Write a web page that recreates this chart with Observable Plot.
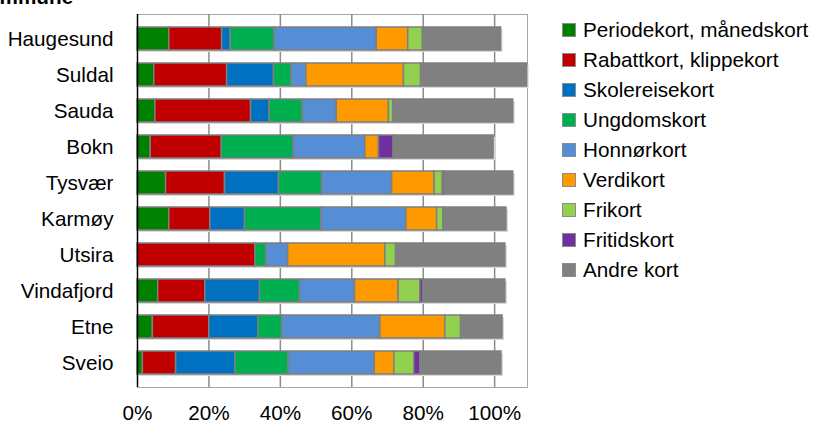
<!DOCTYPE html>
<html>
<head>
<meta charset="utf-8">
<script src="https://cdn.jsdelivr.net/npm/d3@7"></script>
<script src="https://cdn.jsdelivr.net/npm/@observablehq/plot@0.6"></script>
<style>
  html, body { margin: 0; padding: 0; background: #fff; overflow: hidden; }
  body { width: 813px; height: 426px; position: relative; font-family: "Liberation Sans", Arial, sans-serif; }
  #title { position: absolute; left: -28px; top: -13px; font-weight: bold; font-size: 20.7px; line-height: 20px; white-space: nowrap; }
  #legend { position: absolute; left: 562px; top: 15px; }
  .row { height: 30px; display: flex; align-items: center; font-size: 20.7px; color: #000; white-space: nowrap; }
  .sw { width: 12px; height: 12px; border: 1px solid #8c8c8c; margin-right: 7px; box-sizing: content-box; }
  #chart { position: absolute; left: 0; top: 0; }
</style>
</head>
<body>
<div id="chart"></div>
<div id="title">Kommune</div>
<div id="legend"></div>
<script>
const kommuner = ["Haugesund","Suldal","Sauda","Bokn","Tysvær","Karmøy","Utsira","Vindafjord","Etne","Sveio"];
const kort = ["Periodekort, månedskort","Rabattkort, klippekort","Skolereisekort","Ungdomskort","Honnørkort","Verdikort","Frikort","Fritidskort","Andre kort"];
const farger = ["#008000","#C00000","#0070C0","#00B050","#558ED5","#FF9900","#92D050","#7030A0","#808080"];

// Andel (%) per kommune, i samme rekkefølge som kommuner
const periodekort = [8.9, 4.7, 5.0, 3.7, 8.0, 8.9, 0.0, 5.8, 4.3, 1.5];
const rabattkort  = [14.8, 20.4, 26.8, 19.9, 16.5, 11.5, 33.0, 13.2, 15.8, 9.3];
const skolereise  = [2.4, 13.1, 5.2, 0.0, 15.1, 9.7, 0.0, 15.3, 13.7, 16.6];
const ungdomskort = [12.3, 4.9, 9.3, 20.1, 12.1, 21.4, 3.1, 11.2, 6.7, 14.9];
const honnorkort  = [28.6, 4.2, 9.5, 20.1, 19.6, 23.8, 6.1, 15.4, 27.5, 24.1];
const verdikort   = [8.8, 27.3, 14.6, 3.8, 11.9, 8.6, 27.2, 12.2, 18.2, 5.5];
const frikort     = [4.1, 4.8, 1.2, 0.0, 2.3, 1.8, 3.0, 6.1, 4.4, 5.6];
const fritidskort = [0.0, 0.0, 0.0, 4.1, 0.5, 0.0, 0.0, 0.8, 0.0, 1.7];
const andrekort   = [21.9, 29.7, 33.6, 28.0, 19.2, 17.6, 30.6, 23.0, 11.6, 22.7];

const serier = [periodekort, rabattkort, skolereise, ungdomskort, honnorkort, verdikort, frikort, fritidskort, andrekort];
const xTicks = [0, 0.2, 0.4, 0.6, 0.8, 1.0];

const data = [];
kommuner.forEach((k, i) => {
  serier.forEach((s, j) => {
    if (s[i] > 0) data.push({kommune: k, kort: kort[j], verdi: s[i] / 100});
  });
});
const totals = kommuner.map((k, i) => ({kommune: k, total: d3.sum(serier, s => s[i]) / 100}));

const chart = Plot.plot({
  width: 813,
  height: 426,
  marginLeft: 137,
  marginRight: 286,
  marginTop: 14,
  marginBottom: 39,
  style: {fontFamily: "'Liberation Sans', Arial, sans-serif", fontSize: "20.7px", color: "#000", background: "transparent"},
  x: {domain: [0, 1.092], ticks: xTicks, tickFormat: d3.format(".0%"), tickSize: 0, tickPadding: 18, label: null},
  y: {domain: kommuner, padding: 0.35, tickSize: 0, tickPadding: 24, label: null},
  color: {domain: kort, range: farger},
  marks: [
    Plot.frame({stroke: "#a6a6a6"}),
    Plot.ruleX(xTicks.slice(1), {stroke: "#8c8c8c", strokeWidth: 1.5}),
    Plot.barX(totals, {x1: 0, x2: "total", y: "kommune", fill: "#d9d9d9", dx: 2, dy: 2}),
    Plot.barX(data, {x: "verdi", y: "kommune", fill: "kort", stroke: "#7f7f7f", strokeWidth: 1.5, order: kort}),
    Plot.ruleX([0], {stroke: "#000", strokeWidth: 1.5}),
    Plot.axisX({ticks: xTicks, tickFormat: d3.format(".0%"), tickSize: 0, tickPadding: 18, fontSize: 20.7, label: null}),
    Plot.axisY({tickSize: 0, tickPadding: 24, fontSize: 20.7, label: null})
  ]
});
document.getElementById("chart").appendChild(chart);

const legend = document.getElementById("legend");
kort.forEach((k, j) => {
  const row = document.createElement("div");
  row.className = "row";
  const sw = document.createElement("div");
  sw.className = "sw";
  sw.style.background = farger[j];
  const t = document.createElement("span");
  t.textContent = k;
  row.appendChild(sw);
  row.appendChild(t);
  legend.appendChild(row);
});
</script>
</body>
</html>
